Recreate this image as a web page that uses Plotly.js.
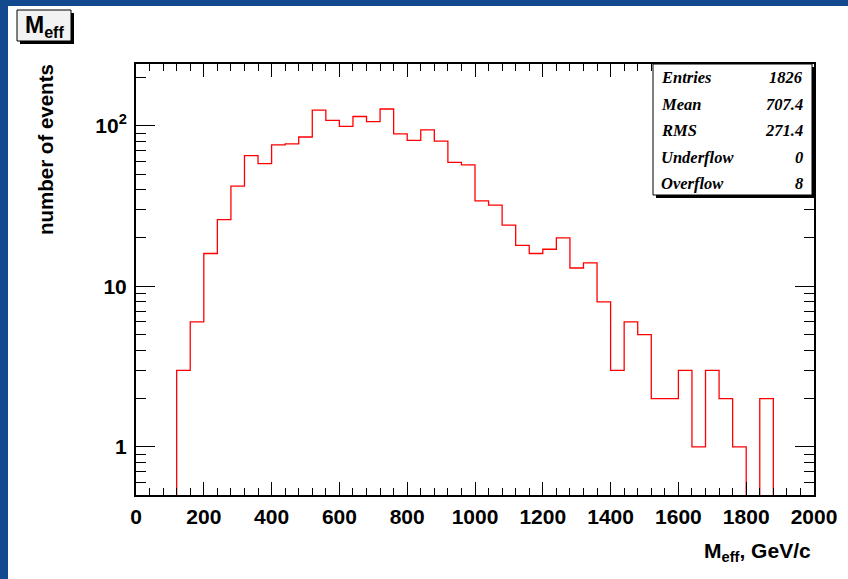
<!DOCTYPE html>
<html>
<head>
<meta charset="utf-8">
<script src="https://cdn.plot.ly/plotly-3.0.1.min.js"></script>
<style>html,body{margin:0;padding:0;background:#134a8f;}#chart{width:848px;height:579px;}</style>
</head>
<body>
<div id="chart"></div>
<script>
// Histogram data: 50 bins of width 40 GeV/c from 0 to 2000
const binWidth = 40;
const binLowEdges = Array.from({length: 50}, (_, i) => i * binWidth);
const counts = [0, 0, 0, 3, 6, 16, 26, 42, 65, 58,
                76, 77, 85, 125, 108, 99, 114, 106, 127, 89,
                81, 94, 80, 59, 57, 34, 32, 24, 18, 16,
                17, 20, 13, 14, 8, 3, 6, 5, 2, 2,
                3, 1, 3, 2, 1, 0, 2, 0, 0, 0];
const statLabels = ["Entries", "Mean", "RMS", "Underflow", "Overflow"];
const statValues = ["1826", "707.4", "271.4", "0", "8"];
const xTickVals = [0, 200, 400, 600, 800, 1000, 1200, 1400, 1600, 1800, 2000];
const yTickVals = [1, 10, 100];
const yTickText = ["1", "10", "10<sup>2</sup>"];

// step outline (empty bins drop below the visible range, as in ROOT log plots)
const floorVal = 0.05;
const xs = binLowEdges.concat([binLowEdges[binLowEdges.length - 1] + binWidth]);
const ys = counts.map(v => v > 0 ? v : floorVal).concat([counts[counts.length - 1] > 0 ? counts[counts.length - 1] : floorVal]);

const trace = {
  x: xs, y: ys, type: 'scatter', mode: 'lines',
  line: {shape: 'hv', color: '#ff0000', width: 1.3},
  hoverinfo: 'skip', cliponaxis: true
};

const L = 136, R = 814, T = 64, B = 495;
const W = R - L, H = B - T;
const px = x => (x - L) / W;
const py = y => (B - y) / H;

const shapes = [
  {type: 'rect', xref: 'paper', yref: 'paper', x0: px(8), x1: px(860), y0: py(6), y1: py(600), fillcolor: 'white', line: {width: 0}, layer: 'below'},
  // title box with shadow
  {type: 'rect', xref: 'paper', yref: 'paper', x0: px(20), x1: px(74), y0: py(13), y1: py(44), fillcolor: 'black', line: {width: 0}},
  {type: 'rect', xref: 'paper', yref: 'paper', x0: px(17), x1: px(71), y0: py(10), y1: py(41), fillcolor: '#f2f2f2', line: {width: 1, color: 'black'}},
  // stats box with shadow
  {type: 'rect', xref: 'paper', yref: 'paper', x0: px(656), x1: px(815), y0: py(67), y1: py(198), fillcolor: 'black', line: {width: 0}},
  {type: 'rect', xref: 'paper', yref: 'paper', x0: px(653), x1: px(812), y0: py(64), y1: py(195), fillcolor: 'white', line: {width: 1, color: 'black'}}
];

const statFont = {family: 'Liberation Serif, Times New Roman, serif', size: 16.5, color: 'black', weight: 'bold', style: 'italic'};
const rowY = [78, 104, 130, 157, 183];
const annotations = [];
statLabels.forEach((lab, i) => {
  annotations.push({xref: 'paper', yref: 'paper', x: px(659), y: py(rowY[i]), text: lab, showarrow: false, xanchor: 'left', yanchor: 'middle', font: statFont});
  annotations.push({xref: 'paper', yref: 'paper', x: px(805), y: py(rowY[i]), text: statValues[i], showarrow: false, xanchor: 'right', yanchor: 'middle', font: statFont});
});
annotations.push({xref: 'paper', yref: 'paper', x: px(44), y: py(26), text: 'M<sub>eff</sub>', showarrow: false, xanchor: 'center', yanchor: 'middle',
  font: {family: 'Liberation Sans, Arial, sans-serif', size: 23, color: 'black', weight: 'bold'}});
annotations.push({xref: 'paper', yref: 'paper', x: px(45), y: py(150), text: 'number of events', showarrow: false, textangle: -90, xanchor: 'center', yanchor: 'middle',
  font: {family: 'Liberation Sans, Arial, sans-serif', size: 20.5, color: 'black', weight: 'bold'}});
annotations.push({xref: 'paper', yref: 'paper', x: px(813), y: py(552), text: 'M<sub>eff</sub>, GeV/c', showarrow: false, xanchor: 'right', yanchor: 'middle',
  font: {family: 'Liberation Sans, Arial, sans-serif', size: 21, color: 'black', weight: 'bold'}});

const tickFont = {family: 'Liberation Sans, Arial, sans-serif', size: 21, color: 'black', weight: 'bold'};

const layout = {
  width: 848, height: 579,
  margin: {l: L, r: 848 - R, t: T, b: 579 - B, pad: 0},
  paper_bgcolor: '#134a8f', plot_bgcolor: 'white',
  showlegend: false,
  xaxis: {
    range: [0, 2000], tickmode: 'array', tickvals: xTickVals, ticks: 'inside', ticklen: 13, tickwidth: 1, tickcolor: 'black',
    minor: {ticks: 'inside', dtick: 40, ticklen: 7, tickcolor: 'black', tickwidth: 1},
    showline: true, linecolor: 'black', linewidth: 2, mirror: 'allticks', showgrid: false, zeroline: false,
    tickfont: tickFont, ticklabelstandoff: 2
  },
  yaxis: {
    type: 'log', range: [Math.log10(0.502), Math.log10(242)],
    tickmode: 'array', tickvals: yTickVals, ticktext: yTickText, ticks: 'inside', ticklen: 19, tickwidth: 1, tickcolor: 'black',
    minor: {ticks: 'inside', dtick: 'D1', ticklen: 10, tickcolor: 'black', tickwidth: 1},
    showline: true, linecolor: 'black', linewidth: 2, mirror: 'allticks', showgrid: false, zeroline: false,
    tickfont: tickFont, ticklabelstandoff: 3
  },
  shapes: shapes,
  annotations: annotations
};

Plotly.newPlot('chart', [trace], layout, {staticPlot: true, displayModeBar: false});
</script>
</body>
</html>
